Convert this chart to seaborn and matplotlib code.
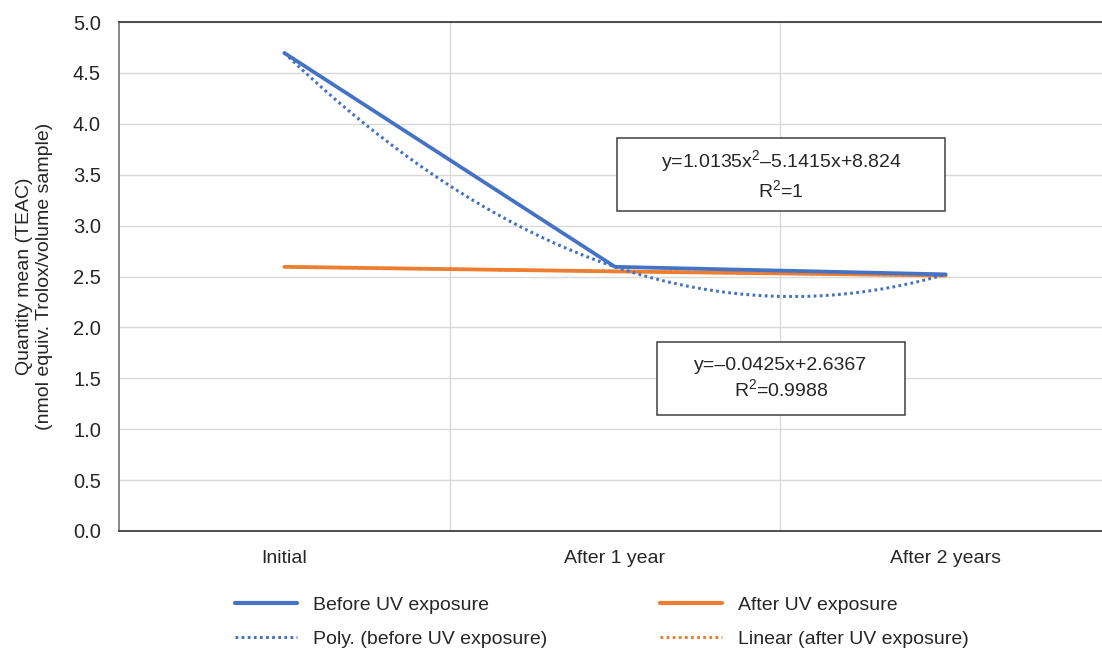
import numpy as np
import pandas as pd
import seaborn as sns
import matplotlib.pyplot as plt
from matplotlib.patches import Rectangle
from matplotlib.lines import Line2D

# data
categories = ["Initial", "After 1 year", "After 2 years"]
positions = [1, 2, 3]
before_uv = [4.696, 2.595, 2.521]
after_uv = [2.595, 2.550, 2.510]
poly_label = "y=1.0135x$^{2}$\u20135.1415x+8.824\nR$^{2}$=1"
lin_label = "y=\u20130.0425x+2.6367\nR$^{2}$=0.9988"

BLUE = "#4472C4"
ORANGE = "#ED7D31"
DOTS = (0, (0.9, 1.1))

sns.set_style("white")
plt.rcParams['font.family'] = ['Liberation Sans', 'DejaVu Sans']
plt.rcParams['mathtext.fontset'] = 'custom'
plt.rcParams['mathtext.rm'] = 'Liberation Sans'
plt.rcParams['mathtext.it'] = 'Liberation Sans:italic'

df = pd.DataFrame({"pos": positions, "before": before_uv, "after": after_uv})

fig = plt.figure(figsize=(11.02, 6.5), dpi=100)
# axes run past the right edge, as in the cropped original
ax = fig.add_axes([119 / 1102, 1 - 531 / 650, 992 / 1102, 509 / 650])

# trendlines fitted from the data
xs = np.linspace(1, 3, 200)
poly = np.polyfit(positions, before_uv, 2)
lin = np.polyfit(positions, after_uv, 1)
trend = pd.DataFrame({"x": xs, "poly": np.polyval(poly, xs), "lin": np.polyval(lin, xs)})

sns.lineplot(data=trend, x="x", y="lin", ax=ax, color=ORANGE, lw=2.2, linestyle=DOTS, zorder=2)
sns.lineplot(data=df, x="pos", y="after", ax=ax, color=ORANGE, lw=2.7, zorder=3)
sns.lineplot(data=df, x="pos", y="before", ax=ax, color=BLUE, lw=2.7, zorder=4)
sns.lineplot(data=trend, x="x", y="poly", ax=ax, color=BLUE, lw=2.2, linestyle=DOTS, zorder=5)

ax.set_xlim(0.5, 3.5)
ax.set_ylim(0, 5)
ax.set_yticks(np.arange(0, 5.01, 0.5))
ax.set_yticklabels([f"{v:.1f}" for v in np.arange(0, 5.01, 0.5)], fontsize=14.5)
ax.set_xticks(positions)
ax.set_xticklabels(categories, fontsize=14)
ax.set_xticks([1.5, 2.5], minor=True)
ax.tick_params(axis="x", which="both", length=0, pad=14)
ax.tick_params(axis="y", length=6, width=1, color="#595959", direction="out", pad=7)
ax.grid(True, axis="y", color="#d9d9d9", lw=1)
ax.grid(True, axis="x", which="minor", color="#d9d9d9", lw=1)
ax.grid(False, axis="x", which="major")
ax.set_axisbelow(True)
for s in ["top", "bottom"]:
    ax.spines[s].set_color("#404040")
    ax.spines[s].set_linewidth(1.3)
ax.spines["left"].set_color("#7f7f7f")
ax.spines["left"].set_linewidth(1.3)
ax.spines["right"].set_visible(False)

ax.set_xlabel("")
ax.set_ylabel("Quantity mean (TEAC)\n(nmol equiv. Trolox/volume sample)", fontsize=14, linespacing=1.2)
ax.yaxis.set_label_coords(-0.067, 0.5)

# equation boxes
for (x0, y0, x1, y1), txt in [((617, 138, 945, 211), poly_label), ((657, 342, 905, 415), lin_label)]:
    fig.add_artist(Rectangle((x0 / 1102, 1 - y1 / 650), (x1 - x0) / 1102, (y1 - y0) / 650,
                             transform=fig.transFigure, facecolor="white", edgecolor="#404040", lw=1.1, zorder=10))
    fig.text((x0 + x1) / 2 / 1102, 1 - (y0 + y1) / 2 / 650, txt, ha="center", va="center",
             fontsize=14, linespacing=1.25, zorder=11)

handles = [
    Line2D([], [], color=BLUE, lw=3),
    Line2D([], [], color=BLUE, lw=2.2, linestyle=DOTS),
    Line2D([], [], color=ORANGE, lw=3),
    Line2D([], [], color=ORANGE, lw=2.2, linestyle=DOTS),
]
labels = ["Before UV exposure", "Poly. (before UV exposure)", "After UV exposure", "Linear (after UV exposure)"]
fig.legend(handles, labels, ncol=2, loc="center", bbox_to_anchor=(0.546, 0.043), frameon=False,
           fontsize=14, handlelength=3.2, handletextpad=0.8, columnspacing=5.8, labelspacing=0.85)

fig.savefig("out.png", dpi=100)
